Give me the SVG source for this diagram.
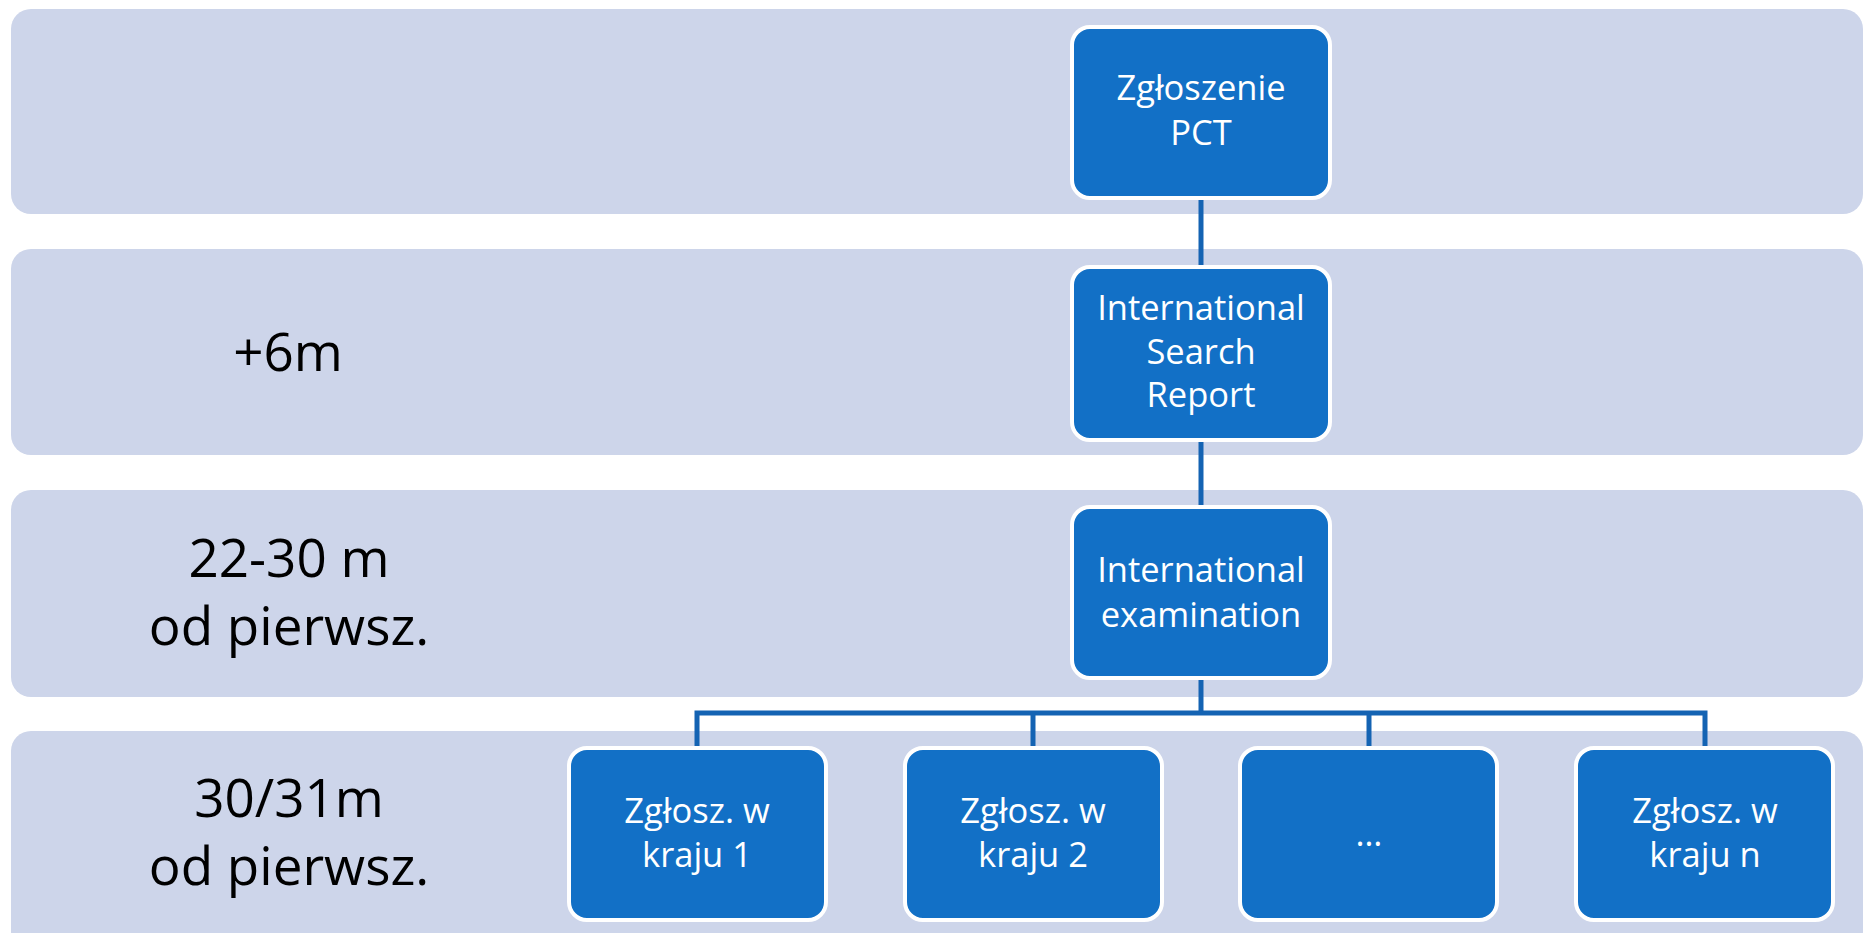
<svg xmlns="http://www.w3.org/2000/svg" width="1863" height="933" viewBox="0 0 1863 933">
<style>
.band{fill:#CDD5EA}
.node{fill:#1270C6;stroke:#FFFFFF;stroke-width:4}
.nt{font-family:"Open Sans","Noto Sans",sans-serif;font-size:34.5px;fill:#FFFFFF;text-anchor:middle}
.lt{font-family:"Open Sans","Noto Sans",sans-serif;font-size:53px;fill:#000000;text-anchor:middle}
.conn{stroke:#1463B3;stroke-width:5;fill:none}
</style>
<rect width="1863" height="933" fill="#FFFFFF"/>
<g id="bands">
<rect class="band" x="11" y="9" width="1852" height="205" rx="20"/>
<rect class="band" x="11" y="249" width="1852" height="206" rx="20"/>
<rect class="band" x="11" y="490" width="1852" height="207" rx="20"/>
<rect class="band" x="11" y="731" width="1852" height="220" rx="20"/>
</g>
<g id="labels">
<text class="lt" x="288" y="371">+6m</text>
<text class="lt" x="289" y="577">22-30 m</text>
<text class="lt" x="289" y="645">od pierwsz.</text>
<text class="lt" x="289" y="817">30/31m</text>
<text class="lt" x="289" y="885">od pierwsz.</text>
</g>
<g id="connectors">
<line class="conn" x1="1201" y1="198" x2="1201" y2="267"/>
<line class="conn" x1="1201" y1="440" x2="1201" y2="507"/>
<polyline class="conn" points="1201,678 1201,713"/>
<polyline class="conn" points="697,748 697,713 1705,713 1705,748"/>
<line class="conn" x1="1033" y1="713" x2="1033" y2="748"/>
<line class="conn" x1="1369" y1="713" x2="1369" y2="748"/>
</g>
<g id="node-pct">
<rect class="node" x="1072" y="27" width="258" height="171" rx="18"/>
<text class="nt" x="1201" y="100">Zgłoszenie</text>
<text class="nt" x="1201" y="145">PCT</text>
</g>
<g id="node-isr">
<rect class="node" x="1072" y="267" width="258" height="173" rx="18"/>
<text class="nt" x="1201" y="320">International</text>
<text class="nt" x="1201" y="364">Search</text>
<text class="nt" x="1201" y="407">Report</text>
</g>
<g id="node-exam">
<rect class="node" x="1072" y="507" width="258" height="171" rx="18"/>
<text class="nt" x="1201" y="582">International</text>
<text class="nt" x="1201" y="627">examination</text>
</g>
<g id="node-k1">
<rect class="node" x="569" y="748" width="257" height="172" rx="18"/>
<text class="nt" x="697" y="823">Zgłosz. w</text>
<text class="nt" x="697" y="867">kraju 1</text>
</g>
<g id="node-k2">
<rect class="node" x="905" y="748" width="257" height="172" rx="18"/>
<text class="nt" x="1033" y="823">Zgłosz. w</text>
<text class="nt" x="1033" y="867">kraju 2</text>
</g>
<g id="node-dots">
<rect class="node" x="1240" y="748" width="257" height="172" rx="18"/>
<text class="nt" x="1369" y="846">…</text>
</g>
<g id="node-kn">
<rect class="node" x="1576" y="748" width="257" height="172" rx="18"/>
<text class="nt" x="1705" y="823">Zgłosz. w</text>
<text class="nt" x="1705" y="867">kraju n</text>
</g>
</svg>
